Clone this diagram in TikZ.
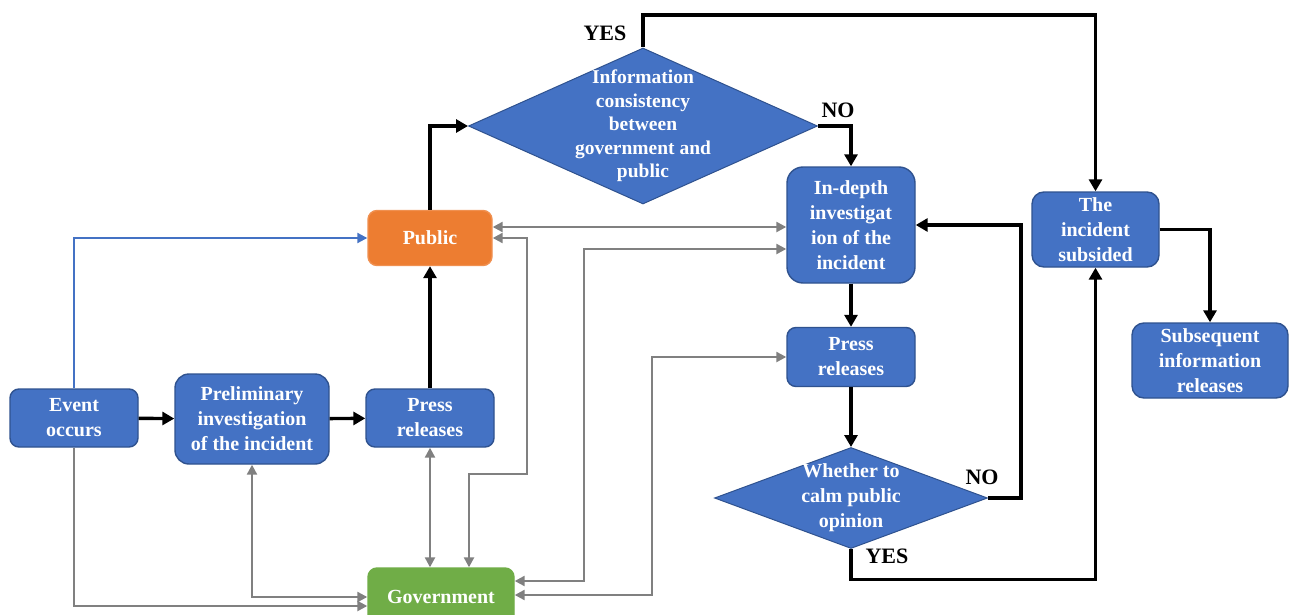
\documentclass[tikz,border=0pt]{standalone}
\usepackage{fontspec}
\setmainfont{Liberation Serif}
\usepackage{tikz}
\usetikzlibrary{arrows.meta,shapes.geometric}
\definecolor{boxblue}{HTML}{4472C4}
\definecolor{boxedge}{HTML}{2F528F}
\definecolor{pubor}{HTML}{ED7D31}
\definecolor{govgreen}{HTML}{70AD47}
\definecolor{linkgray}{HTML}{808080}
\tikzset{
  block/.style={draw=boxedge, fill=boxblue, rounded corners=9pt, align=center, text=white, line width=1.4pt, inner sep=0pt, font=\bfseries\fontsize{20}{25}\selectfont},
  decision/.style={diamond, draw=boxedge, fill=boxblue, line width=1pt, inner sep=0pt},
  dectext/.style={text=white, align=center, font=\bfseries\fontsize{19.5}{23.5}\selectfont},
  flow/.style={-{Triangle[length=12pt,width=13pt]}, line width=3.4pt},
  blueflow/.style={-{Triangle[length=10pt,width=10pt]}, draw=boxblue, line width=2pt},
  link/.style={{Triangle[length=10pt,width=10pt]}-{Triangle[length=10pt,width=10pt]}, draw=linkgray, line width=2.3pt},
  onelink/.style={-{Triangle[length=10pt,width=10pt]}, draw=linkgray, line width=2.3pt},
  lbl/.style={font=\bfseries\fontsize{22}{26}\selectfont}
}
\begin{document}
\begin{tikzpicture}[x=1pt,y=-1pt]
  \useasboundingbox[fill=white] (0,0) rectangle (1290,615);

  % boxes
  \node[block, minimum width=128pt, minimum height=58pt] (event) at (74,418) {Event\\occurs};
  \node[block, minimum width=154pt, minimum height=90pt, rounded corners=14pt] (prelim) at (252,419) {Preliminary\\investigation\\of the incident};
  \node[block, minimum width=128pt, minimum height=58pt] (pressA) at (430,418) {Press\\releases};
  \node[block, fill=pubor, draw=pubor!85!white, minimum width=124pt, minimum height=55pt] (public) at (430,238) {Public};
  \node[block, fill=govgreen, draw=govgreen, minimum width=146pt, minimum height=58pt] (gov) at (441,597) {Government};
  \node[decision, minimum width=349pt, minimum height=156pt,
    label={[dectext]center:Information\\consistency\\between\\government and\\public}] (dec1) at (643,126) {};
  \node[block, minimum width=128pt, minimum height=116pt, rounded corners=16pt] (indepth) at (851,225) {In-depth\\investigat\\ion of the\\incident};
  \node[block, minimum width=128pt, minimum height=59pt] (pressB) at (851,357) {Press\\releases};
  \node[decision, minimum width=273pt, minimum height=101pt,
    label={[dectext, font=\bfseries\fontsize{20}{25}\selectfont]center:Whether to\\calm public\\opinion}] (dec2) at (851,498) {};
  \node[block, minimum width=127pt, minimum height=75pt, rounded corners=12pt] (subsided) at (1095.5,229.5) {The\\incident\\subsided};
  \node[block, minimum width=156pt, minimum height=75pt, rounded corners=12pt] (subseq) at (1210,360.5) {Subsequent\\information\\releases};

  % bends
  \coordinate (topturn) at (1095.5,15);
  \coordinate (bendA) at (527,474);
  \coordinate (bendB) at (584,249);
  \coordinate (bendC) at (652,357);

  % main flow
  \draw[flow] (event) -- (prelim);
  \draw[flow] (prelim) -- (pressA);
  \draw[flow] (pressA) -- (public);
  \draw[flow] (public.north) |- (dec1.west);
  \draw[flow] (dec1.north) |- (topturn) -- (subsided.north);
  \draw[flow] (dec1.east) -| (indepth.north);
  \draw[flow] (indepth) -- (pressB);
  \draw[flow] (pressB) -- (dec2.north);
  \draw[flow] (dec2.east) -- ++(33,0) |- (indepth.east);
  \draw[flow] (dec2.south) -- ++(0,30.5) -| (subsided.south);
  \draw[flow] (subsided.east) -| (subseq.north);
  \node[lbl] (yes1) at (605,33) {YES};
  \node[lbl] (no1) at (838,110) {NO};
  \node[lbl] (no2) at (982,477) {NO};
  \node[lbl] (yes2) at (887,556) {YES};

  % information links
  \draw[blueflow] (event.north) |- (public.west);
  \draw[onelink] (event.south) |- ([yshift=-9pt]gov.west);
  \draw[link] (prelim.south) |- (gov.west);
  \draw[link] (pressA.south) -- (pressA.south |- gov.north);
  \draw[link] (public.east) -| (bendA) -| ([xshift=28pt]gov.north);
  \draw[link] ([yshift=11pt]public.east) -- ([yshift=-2pt]indepth.west);
  \draw[link] ([yshift=16pt]gov.east) -| (bendB) -- ([yshift=-24pt]indepth.west);
  \draw[link] ([yshift=2pt]gov.east) -| (bendC) -- (pressB.west);
\end{tikzpicture}
\end{document}
